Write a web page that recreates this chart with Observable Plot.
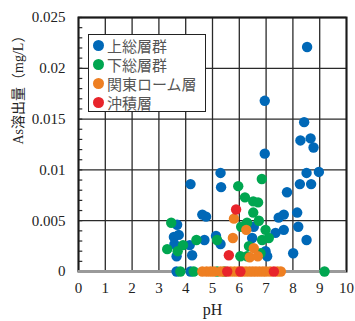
<!DOCTYPE html>
<html>
<head>
<meta charset="utf-8">
<script src="https://cdn.jsdelivr.net/npm/d3@7"></script>
<script src="https://cdn.jsdelivr.net/npm/@observablehq/plot@0.6"></script>
<style>
  html, body { margin: 0; padding: 0; background: #fff; }
  #wrap { position: relative; width: 355px; height: 321px; }
  #legend { position: absolute; left: 88px; top: 34px; width: 116px; height: 76px;
    border: 1.5px solid #222; background: #fff; font-family: "Noto Sans CJK JP", sans-serif;
    font-size: 15px; color: #555; }
  .row { position: absolute; left: 0; height: 19px; line-height: 19px; white-space: nowrap; }
  .sw { position: absolute; left: 4px; top: 4px; width: 11px; height: 11px; border-radius: 50%; }
  .lb { position: absolute; left: 18px; top: 0; }
</style>
</head>
<body>
<div id="wrap"><div id="legend"></div></div>
<script>
// ---- data ----
const seriesNames = ["上総層群", "下総層群", "関東ローム層", "沖積層"];
const seriesColors = ["#0068b7", "#00a650", "#ee7f22", "#e8242b"];

const kazusaPH = [8.53, 6.95, 8.42, 8.28, 8.66, 8.77, 6.95, 5.30, 5.32, 4.18, 8.51, 8.97, 8.26, 8.68, 7.78,
  4.62, 4.76, 7.47, 7.66, 8.16, 8.20, 7.35, 7.66, 8.51, 8.01, 4.70, 5.13, 5.30, 6.54, 6.48, 6.98, 7.04,
  3.68, 3.56, 3.74, 4.15, 3.66, 4.24, 3.58, 3.66, 4.18];
const kazusaAs = [0.0221, 0.0168, 0.0147, 0.0129, 0.0131, 0.0122, 0.0116, 0.0097, 0.0083, 0.0086, 0.0097, 0.0098, 0.0086, 0.0086, 0.0078,
  0.0056, 0.0054, 0.0053, 0.0056, 0.0058, 0.0044, 0.0038, 0.0041, 0.0031, 0.0018, 0.0031, 0.0035, 0.0027, 0.0044, 0.0033, 0.0020, 0.0015,
  0.0046, 0.0034, 0.0036, 0.0026, 0.0015, 0.0016, 0.0027, 0, 0];

const shimosaPH = [6.84, 5.96, 6.21, 6.52, 6.70, 6.52, 6.73, 6.29, 6.07, 6.98, 5.17, 6.85, 7.10, 6.36, 6.29, 6.04, 6.79,
  3.46, 3.31, 3.70, 3.90, 4.40, 3.80, 4.30, 5.17, 5.45, 9.18];
const shimosaAs = [0.0091, 0.0084, 0.0073, 0.0069, 0.0068, 0.0058, 0.0050, 0.0048, 0.0044, 0.0041, 0.0031, 0.0031, 0.0033, 0.0025, 0.0015, 0.0015, 0.0018,
  0.0048, 0.0022, 0.0020, 0.0026, 0.0031, 0, 0, 0, 0, 0];

const kantoPH = [5.80, 6.26, 5.76, 6.54, 6.39, 6.69,
  4.62, 4.78, 4.92, 5.05, 5.30, 5.42, 5.68, 5.82, 5.95, 6.12, 6.25, 6.38, 6.50, 6.62, 6.75, 6.88, 7.00, 7.15, 7.42, 7.55];
const kantoAs = [0.0052, 0.0041, 0.0033, 0.0023, 0.0014, 0.0015,
  0, 0, 0, 0, 0, 0, 0, 0, 0, 0, 0, 0, 0, 0, 0, 0, 0, 0, 0, 0];

const chusekiPH = [5.88, 5.61, 5.55, 6.04, 7.29];
const chusekiAs = [0.0061, 0.0016, 0, 0, 0];

const xTicks = [0, 1, 2, 3, 4, 5, 6, 7, 8, 9, 10];
const xTickLabels = ["0", "1", "2", "3", "4", "5", "6", "7", "8", "9", "10"];
const yTicks = [0, 0.005, 0.01, 0.015, 0.02, 0.025];
const yTickLabels = ["0", "0.005", "0.01", "0.015", "0.02", "0.025"];
const xLabel = "pH";
const yLabel = "As溶出量（mg/L）";

// ---- build table ----
const phs = [kazusaPH, shimosaPH, kantoPH, chusekiPH];
const ass = [kazusaAs, shimosaAs, kantoAs, chusekiAs];
const data = [];
phs.forEach((arr, s) => arr.forEach((p, i) => data.push({ph: p, as: ass[s][i], group: seriesNames[s]})));

const minor = d3.range(0, 0.0251, 0.001);
const serif = "'Liberation Serif', 'Times New Roman', serif";

const chart = Plot.plot({
  width: 355,
  height: 321,
  marginLeft: 78,
  marginRight: 9,
  marginTop: 17,
  marginBottom: 50,
  x: {domain: [0, 10]},
  y: {domain: [0, 0.025]},
  color: {domain: seriesNames, range: seriesColors},
  style: {fontFamily: serif, fontSize: "15px", color: "#222", background: "#fff"},
  marks: [
    Plot.ruleX(xTicks, {stroke: "#2a2a2a", strokeWidth: 1.3}),
    Plot.ruleY(yTicks, {stroke: "#2a2a2a", strokeWidth: 1.3}),
    Plot.ruleY(minor, {x1: 0, x2: 0.16, stroke: "#2a2a2a", strokeWidth: 1.2}),
    Plot.frame({stroke: "#1a1a1a", strokeWidth: 2}),
    Plot.ruleY([0], {stroke: "#9a9a9a", strokeWidth: 3}),
    Plot.axisX({ticks: xTicks, tickFormat: (d, i) => xTickLabels[i], tickSize: 0, tickPadding: 11, label: null, fontSize: 15}),
    Plot.axisY({ticks: yTicks, tickFormat: (d, i) => yTickLabels[i], tickSize: 0, tickPadding: 13, label: null, fontSize: 15}),
    Plot.dot(data, {x: "ph", y: "as", fill: "group", r: 5.2, stroke: "none"}),
    Plot.text([xLabel], {frameAnchor: "bottom", dy: 43, fontSize: 16, fill: "#222"}),
    Plot.text([yLabel], {frameAnchor: "left", dx: -60, rotate: -90, fontSize: 14, fill: "#222",
      fontFamily: "'Liberation Serif', 'Noto Sans CJK JP', serif"})
  ]
});
const wrap = document.getElementById("wrap");
wrap.insertBefore(chart, wrap.firstChild);

// legend
const legend = document.getElementById("legend");
seriesNames.forEach((n, i) => {
  const row = document.createElement("div");
  row.className = "row";
  row.style.top = (1 + i * 19) + "px";
  row.style.width = "116px";
  const sw = document.createElement("span");
  sw.className = "sw";
  sw.style.background = seriesColors[i];
  const lb = document.createElement("span");
  lb.className = "lb";
  lb.textContent = n;
  row.appendChild(sw); row.appendChild(lb);
  legend.appendChild(row);
});
</script>
</body>
</html>
